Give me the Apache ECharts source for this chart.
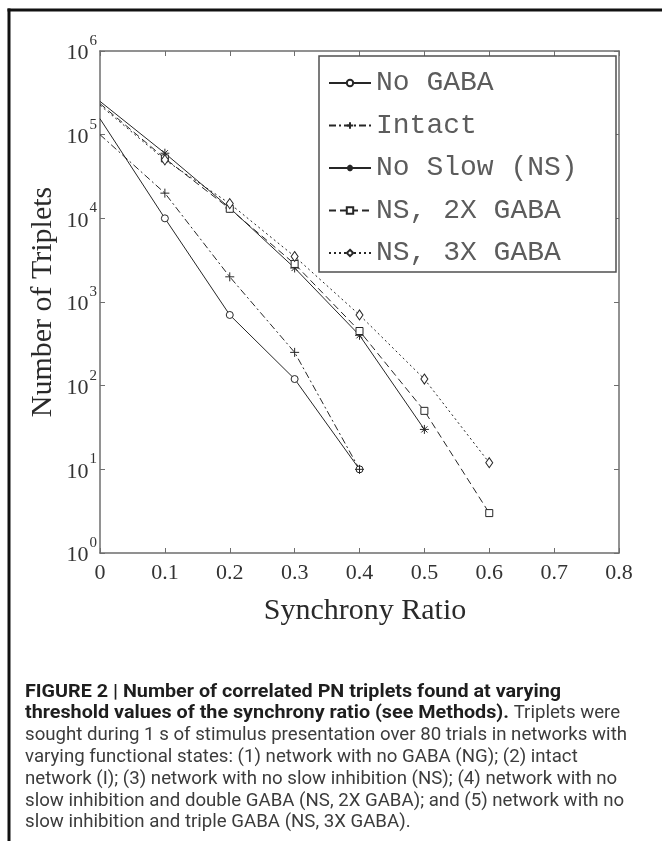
<!DOCTYPE html>
<html><head><meta charset="utf-8">
<script src="https://cdn.jsdelivr.net/npm/echarts@6/dist/echarts.min.js"></script>
<style>html,body{margin:0;padding:0;background:#fff}#c{width:662px;height:841px}</style>
</head><body><div id="c"></div>
<script>
// ---- data ----
const xValues = [0, 0.1, 0.2, 0.3, 0.4, 0.5, 0.6];
const seriesNames = ['No GABA', 'Intact', 'No Slow (NS)', 'NS, 2X GABA', 'NS, 3X GABA'];
const noGaba = [155000, 10000, 700, 120, 10];
const intact = [100000, 20000, 2000, 250, 10];
const noSlow = [250000, 60000, 13300, 2550, 400, 30];
const ns2xGaba = [235000, 52000, 13000, 2850, 450, 50, 3];
const ns3xGaba = [225000, 50000, 15000, 3500, 700, 120, 12];
const xTickLabels = ['0', '0.1', '0.2', '0.3', '0.4', '0.5', '0.6', '0.7', '0.8'];
const yTickExponents = [0, 1, 2, 3, 4, 5, 6];
const xTitle = 'Synchrony Ratio';
const yTitle = 'Number of Triplets';
const captionLines = [
  [['b', 'FIGURE 2 | Number of correlated PN triplets found at varying']],
  [['b', 'threshold values of the synchrony ratio (see Methods).'], ['n', ' Triplets were']],
  [['n', 'sought during 1 s of stimulus presentation over 80 trials in networks with']],
  [['n', 'varying functional states: (1) network with no GABA (NG); (2) intact']],
  [['n', 'network (I); (3) network with no slow inhibition (NS); (4) network with no']],
  [['n', 'slow inhibition and double GABA (NS, 2X GABA); and (5) network with no']],
  [['n', 'slow inhibition and triple GABA (NS, 3X GABA).']]
];

// ---- styles ----
const serif = '"Liberation Serif","Times New Roman",serif';
const mono = '"Liberation Mono","Courier New",monospace';
const capFont = 'Roboto';
const capSize = 18;
const lineCol = '#262626';
const axisCol = '#6e6e6e';

const symbols = {
  circle: 'circle',
  plus: 'path://M5,0L5,10M0,5L10,5',
  star: 'path://M5,0L5,10M0,5L10,5M1.6,1.6L8.4,8.4M8.4,1.6L1.6,8.4',
  rect: 'rect',
  diamond: 'diamond'
};
const seriesDefs = [
  { name: seriesNames[0], data: noGaba, symbol: symbols.circle, size: 7, dash: 'solid' },
  { name: seriesNames[1], data: intact, symbol: symbols.plus, size: 9, dash: [7, 3, 2, 3] },
  { name: seriesNames[2], data: noSlow, symbol: symbols.star, size: 9, dash: 'solid' },
  { name: seriesNames[3], data: ns2xGaba, symbol: symbols.rect, size: 7, dash: [7, 4] },
  { name: seriesNames[4], data: ns3xGaba, symbol: symbols.diamond, size: [7, 10], dash: [2, 3] }
];

const series = seriesDefs.map(d => ({
  type: 'line',
  name: d.name,
  data: d.data.map((v, i) => i === 0 ? { value: [xValues[i], v], symbolSize: 0 } : [xValues[i], v]),
  symbol: d.symbol,
  symbolSize: d.size,
  showAllSymbol: true,
  lineStyle: { color: lineCol, width: 1, type: d.dash },
  itemStyle: { color: '#fff', borderColor: lineCol, borderWidth: 1 },
  emphasis: { disabled: true },
  z: 2
}));

// caption measurement for condensed look
const ctx = document.createElement('canvas').getContext('2d');
function measure(txt, bold) {
  ctx.font = (bold ? 'bold ' : '') + capSize + 'px ' + capFont;
  return ctx.measureText(txt).width;
}
const normScale = 602 / measure(captionLines[2][0][1], false);
const boldScale = 536 / measure(captionLines[0][0][1], true);

const captionGraphics = [];
captionLines.forEach((parts, i) => {
  let x = 25;
  parts.forEach(p => {
    const bold = p[0] === 'b';
    const sc = bold ? boldScale : normScale;
    captionGraphics.push({
      type: 'text',
      x: x, y: 692 + i * 21.8,
      scaleX: sc,
      style: {
        text: p[1],
        font: (bold ? 'bold ' : '') + capSize + 'px ' + capFont,
        fill: bold ? '#1e1e1e' : '#3c3c3c',
        align: 'left', verticalAlign: 'middle'
      }
    });
    x += measure(p[1], bold) * sc;
  });
});

const chart = echarts.init(document.getElementById('c'), null, { renderer: 'canvas' });
chart.setOption({
  animation: false,
  backgroundColor: '#fff',
  grid: { left: 100, right: 43, top: 51, bottom: 288, containLabel: false },
  xAxis: [
    {
      type: 'value', min: 0, max: 0.8, interval: 0.1, position: 'bottom',
      axisLine: { show: true, lineStyle: { color: axisCol, width: 1.5 } },
      axisTick: { show: true, inside: true, length: 5, lineStyle: { color: axisCol } },
      splitLine: { show: false },
      axisLabel: {
        margin: 9, fontFamily: serif, fontSize: 22, color: '#333',
        formatter: v => xTickLabels[Math.round(v * 10)]
      }
    },
    {
      type: 'value', min: 0, max: 0.8, interval: 0.1, position: 'top',
      axisLine: { show: true, onZero: false, lineStyle: { color: axisCol, width: 1.5 } },
      axisTick: { show: true, inside: true, length: 5, lineStyle: { color: axisCol } },
      splitLine: { show: false }, axisLabel: { show: false }
    }
  ],
  yAxis: [
    {
      type: 'log', logBase: 10, min: 1, max: 1e6, splitNumber: 6, position: 'left',
      axisLine: { show: true, lineStyle: { color: axisCol, width: 1.5 } },
      axisTick: { show: true, inside: true, length: 5, lineStyle: { color: axisCol } },
      splitLine: { show: false }, minorTick: { show: false },
      axisLabel: {
        margin: 3,
        formatter: v => {
          const e = Math.round(Math.log10(v));
          return yTickExponents.indexOf(e) >= 0 ? '{b|10}{s|' + e + '}' : '';
        },
        rich: {
          b: { fontFamily: serif, fontSize: 22, color: '#333', lineHeight: 22, padding: [5, 0, 0, 0] },
          s: { fontFamily: serif, fontSize: 15, color: '#333', lineHeight: 15, padding: [0, 0, 20, 1] }
        }
      }
    },
    {
      type: 'log', logBase: 10, min: 1, max: 1e6, splitNumber: 6, position: 'right',
      axisLine: { show: true, onZero: false, lineStyle: { color: axisCol, width: 1.5 } },
      axisTick: { show: true, inside: true, length: 5, lineStyle: { color: axisCol } },
      splitLine: { show: false }, axisLabel: { show: false }
    }
  ],
  legend: {
    show: true, orient: 'vertical', left: 319, top: 56,
    padding: [13, 10, 10, 9],
    itemWidth: 42, itemHeight: 8, itemGap: 14.5,
    selectedMode: false,
    textStyle: { fontFamily: mono, fontSize: 28, color: '#5c5c5c', lineHeight: 27 },
    data: seriesNames,
    z: 6
  },
  series: series,
  graphic: [
    { type: 'rect', z: 5, shape: { x: 319, y: 56, width: 297, height: 216 },
      style: { fill: '#fff', stroke: '#505050', lineWidth: 1.5 } },
    { type: 'text', x: 43, y: 302, rotation: Math.PI / 2,
      style: { text: yTitle, font: '30px ' + serif, fill: '#2a2a2a', align: 'center', verticalAlign: 'middle' } },
    { type: 'text', x: 365, y: 611,
      style: { text: xTitle, font: '30px ' + serif, fill: '#2a2a2a', align: 'center', verticalAlign: 'middle' } },
    { type: 'line', shape: { x1: 7.5, y1: 10, x2: 662, y2: 10 }, style: { stroke: '#111', lineWidth: 3 } },
    { type: 'line', shape: { x1: 9, y1: 8.5, x2: 9, y2: 841 }, style: { stroke: '#111', lineWidth: 3 } }
  ].concat(captionGraphics)
});
</script>
</body></html>
